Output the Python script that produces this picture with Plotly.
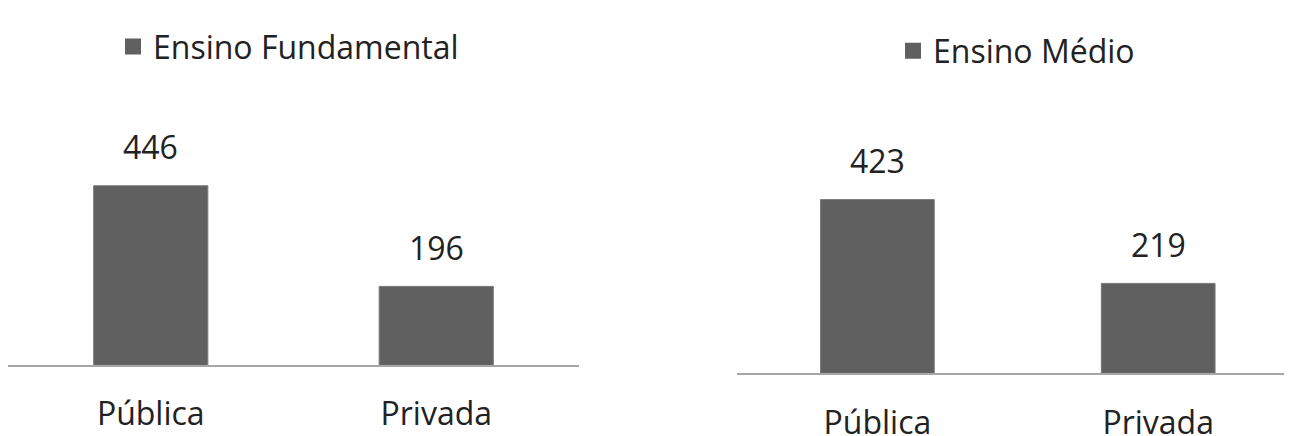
import plotly.graph_objects as go

# ---- data ----
categories = ["Pública", "Privada"]
fundamental_values = [446, 196]
medio_values = [423, 219]
series_names = ["Ensino Fundamental", "Ensino Médio"]

# ---- style ----
# the page body keeps its default 8px margin, so the figure is sized to fit the window
W, H = 1284, 428
BAR_COLOR = "#606060"
TEXT_COLOR = "#222222"
AXIS_COLOR = "#a6a6a6"
FONT = "Open Sans"
FS = 32

fig = go.Figure()

# bars
fig.add_trace(go.Bar(x=categories, y=fundamental_values, name=series_names[0],
                     marker=dict(color=BAR_COLOR, line=dict(color="#7a7a7a", width=1)),
                     width=0.4, xaxis="x", yaxis="y", showlegend=False))
fig.add_trace(go.Bar(x=categories, y=medio_values, name=series_names[1],
                     marker=dict(color=BAR_COLOR, line=dict(color="#7a7a7a", width=1)),
                     width=0.405, xaxis="x2", yaxis="y2", showlegend=False))

# legend entries (square swatches)
fig.add_trace(go.Scatter(x=[None], y=[None], mode="markers", name=series_names[0],
                         marker=dict(symbol="square", size=20, color=BAR_COLOR),
                         xaxis="x", yaxis="y", legend="legend"))
fig.add_trace(go.Scatter(x=[None], y=[None], mode="markers", name=series_names[1],
                         marker=dict(symbol="square", size=20, color=BAR_COLOR),
                         xaxis="x2", yaxis="y2", legend="legend2"))

# data labels
for xa, ya, vals in (("x", "y", fundamental_values), ("x2", "y2", medio_values)):
    for c, v in zip(categories, vals):
        fig.add_annotation(x=c, y=v, xref=xa, yref=ya, text=str(v), showarrow=False,
                           yanchor="middle", yshift=39,
                           font=dict(family=FONT, size=FS, color=TEXT_COLOR))

axis_common = dict(showgrid=False, zeroline=False, showline=True, linecolor=AXIS_COLOR,
                   linewidth=2, ticks="", tickfont=dict(family=FONT, size=FS, color=TEXT_COLOR),
                   automargin=False, fixedrange=True)
yaxis_common = dict(showgrid=False, zeroline=False, showline=False, showticklabels=False,
                    range=[0, 500], automargin=False, fixedrange=True)

fig.update_layout(
    width=W, height=H,
    margin=dict(l=0, r=0, t=0, b=0),
    paper_bgcolor="white", plot_bgcolor="white",
    bargap=0.6,
    font=dict(family=FONT, color=TEXT_COLOR, size=FS),
    xaxis=dict(domain=[0.0, 571 / W], range=[-0.5, 1.5], anchor="y",
               ticklabelstandoff=19, **axis_common),
    yaxis=dict(domain=[(H - 357.3) / H, (H - 156) / H], anchor="x", **yaxis_common),
    xaxis2=dict(domain=[729 / W, 1.0], range=[-0.5, 1.4765], anchor="y2",
                ticklabelstandoff=20, **axis_common),
    yaxis2=dict(domain=[(H - 365.3) / H, (H - 160) / H], anchor="x2", **yaxis_common),
    legend=dict(x=105 / W, y=(H - 38.7) / H, xanchor="left", yanchor="middle",
                font=dict(family=FONT, size=FS, color=TEXT_COLOR), bgcolor="rgba(0,0,0,0)"),
    legend2=dict(x=885 / W, y=(H - 43) / H, xanchor="left", yanchor="middle",
                 font=dict(family=FONT, size=FS, color=TEXT_COLOR), bgcolor="rgba(0,0,0,0)"),
)

fig.write_html("out.html")
